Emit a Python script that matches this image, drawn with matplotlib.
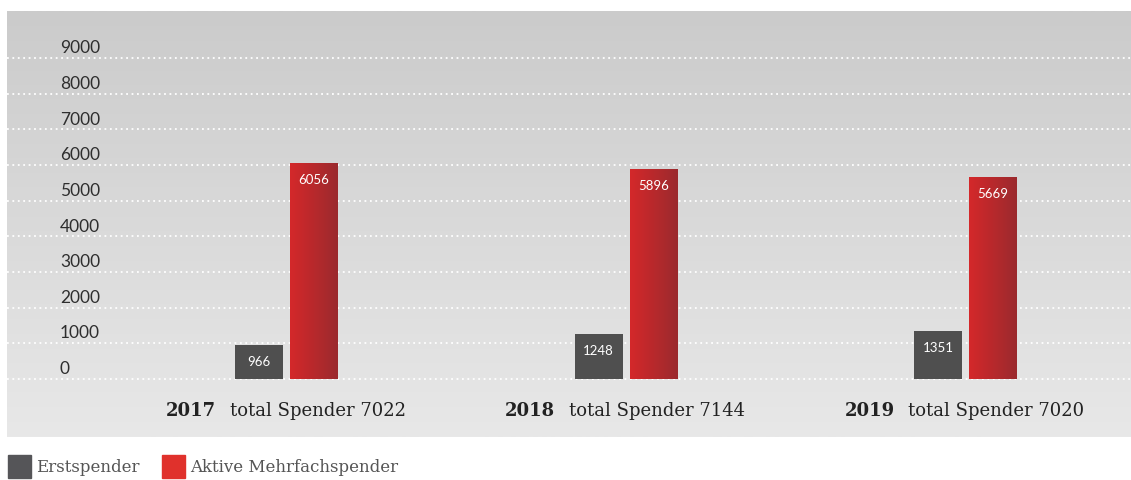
import numpy as np
import matplotlib.pyplot as plt
from matplotlib.patches import Rectangle

# Daten
jahre = ['2017', '2018', '2019']
erstspender = [966, 1248, 1351]
mehrfachspender = [6056, 5896, 5669]
total = [7022, 7144, 7020]
y_ticks = [0, 1000, 2000, 3000, 4000, 5000, 6000, 7000, 8000, 9000]

dunkel = '#4f4f4f'
rot_links = '#d4282a'
rot_rechts = '#9b2a2e'
serif = 'DejaVu Serif'
sans = 'Lato'

W, H = 1131, 481
fig = plt.figure(figsize=(W / 100, H / 100), dpi=100)
fig.patch.set_facecolor('white')

# Panel 7..1131 px horizontal, 12..438 px vertikal
ax = fig.add_axes([7 / W, (H - 438) / H, 1124 / W, 426 / H])
px_pro_1000 = 321 / 9
ymin = -(438 - 380) / px_pro_1000 * 1000
ymax = (380 - 12) / px_pro_1000 * 1000
px_pro_einheit = 339.5
mitte0 = 286.5
xmin = (7 - mitte0) / px_pro_einheit
xmax = (1131 - mitte0) / px_pro_einheit

# Hintergrundverlauf
grad = np.linspace(0, 1, 256).reshape(-1, 1)
ax.imshow(grad, cmap=plt.matplotlib.colors.LinearSegmentedColormap.from_list(
    'bg', ['#cbcbcb', '#e8e8e8']), extent=[xmin, xmax, ymin, ymax],
    aspect='auto', origin='upper', zorder=0)
ax.set_xlim(xmin, xmax)
ax.set_ylim(ymin, ymax)
for s in ax.spines.values():
    s.set_visible(False)
ax.set_xticks([])
ax.set_yticks([])

# Gitterlinien
for t in y_ticks:
    ax.axhline(t, color='white', lw=1.3, ls=(0, (1, 2)), zorder=1)
    ax.annotate(str(t), xy=(53 / 1124, t), xycoords=ax.get_yaxis_transform(),
                xytext=(0, 7.8), textcoords='offset points', ha='left', va='center',
                fontsize=12.5, family=sans, color='#2e2e2e')

x = np.arange(len(jahre))
bw = 48 / px_pro_einheit
off = 27.5 / px_pro_einheit
b1 = ax.bar(x - off, erstspender, bw, color=dunkel, zorder=2)
b2 = ax.bar(x + off, mehrfachspender, bw, color=rot_links, zorder=2)

# horizontaler Verlauf auf den roten Balken
rot_cmap = plt.matplotlib.colors.LinearSegmentedColormap.from_list('rot', [rot_links, rot_rechts])
for p in b2:
    im = ax.imshow(np.linspace(0, 1, 64).reshape(1, -1), cmap=rot_cmap, aspect='auto',
                   extent=[p.get_x(), p.get_x() + p.get_width(), 0, p.get_height()], zorder=2.5)
    im.set_clip_path(p)
ax.set_xlim(xmin, xmax)
ax.set_ylim(ymin, ymax)

for bars, vals in [(b1, erstspender), (b2, mehrfachspender)]:
    for p, v in zip(bars, vals):
        ax.annotate(str(v), xy=(p.get_x() + p.get_width() / 2, v), xytext=(0, -11.5),
                    textcoords='offset points', ha='center', va='center',
                    fontsize=9.5, family=sans, color='white', zorder=3)

# Kategorienbeschriftung
y_lab = -(411 - 380) / px_pro_1000 * 1000
for xi, j, t in zip(x, jahre, total):
    ax.annotate(j, xy=(xi, y_lab), xytext=(-71 * 0.72, 0), textcoords='offset points',
                ha='right', va='center', fontsize=13, family=serif, fontweight='bold',
                color='#222222')
    ax.annotate('total Spender ' + str(t), xy=(xi, y_lab), xytext=(-57 * 0.72, 0),
                textcoords='offset points', ha='left', va='center', fontsize=13,
                family=serif, color='#222222')

# Legende
fig.add_artist(Rectangle((8 / W, (H - 479) / H), 23 / W, 23 / H, transform=fig.transFigure,
                         color='#555558'))
fig.text(36 / W, (H - 468) / H, 'Erstspender', ha='left', va='center', fontsize=12,
         family=serif, color='#555555')
fig.add_artist(Rectangle((162 / W, (H - 479) / H), 23 / W, 23 / H, transform=fig.transFigure,
                         color='#e0312c'))
fig.text(190 / W, (H - 468) / H, 'Aktive Mehrfachspender', ha='left', va='center',
         fontsize=12, family=serif, color='#555555')

plt.savefig('out.png', dpi=100)
